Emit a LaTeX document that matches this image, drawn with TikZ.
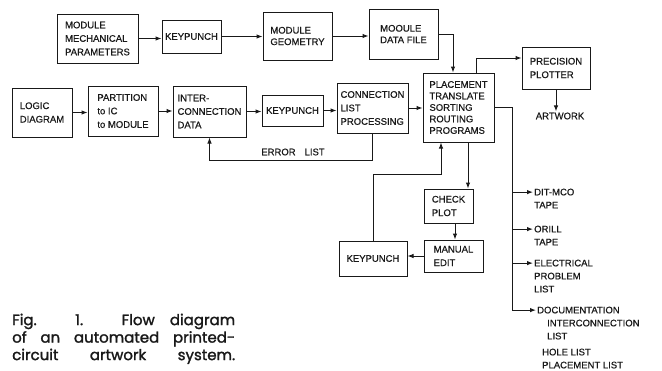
\documentclass[tikz,border=0pt]{standalone}
\usepackage{fontspec}
\setmainfont{Liberation Sans}[FakeBold=0.5]
\newfontfamily\capfont{Poppins}[FakeBold=1.6]
\usetikzlibrary{arrows.meta}

\tikzset{
	blk/.style={draw, line width=1pt, align=left, inner sep=2pt, font=\fontsize{9.5}{13.5}\selectfont},
	tight/.style={font=\fontsize{9.5}{11.5}\selectfont},
	outtxt/.style={anchor=north west, align=left, inner sep=1pt, font=\fontsize{9.5}{13}\selectfont},
	lbl/.style={inner sep=1pt, font=\fontsize{9.5}{11.5}\selectfont},
	ln/.style={line width=1pt},
	arr/.style={line width=1pt, -{Latex[length=6pt,width=4.5pt]}},
}

\begin{document}
\begin{tikzpicture}[x=1pt, y=-1pt, color=black!90]
			
			\useasboundingbox[fill=white] (0,0) rectangle (662,370);
			
			% top row
			\node[blk, minimum width=81pt, minimum height=49pt] (mmp) at (97.5,38.5) {MODULE\\MECHANICAL\\PARAMETERS};
			\node[blk, minimum width=59pt, minimum height=33pt] (kp1) at (191.5,36.5) {KEYPUNCH};
			\node[blk, tight, minimum width=69pt, minimum height=48pt] (mgeo) at (297.5,36) {MODULE\\GEOMETRY};
			\node[blk, tight, minimum width=69pt, minimum height=50pt] (mdf) at (403.5,34) {MOOULE\\DATA FILE};
			
			% middle row
			\node[blk, minimum width=60pt, minimum height=49pt] (logic) at (42,112.5) {LOGIC\\DIAGRAM};
			\node[blk, minimum width=70pt, minimum height=50pt] (part) at (123,111) {PARTITION\\to IC\\to MODULE};
			\node[blk, minimum width=73pt, minimum height=51pt] (icd) at (209.5,111.5) {INTER-\\CONNECTION\\DATA};
			\node[blk, minimum width=61pt, minimum height=31pt] (kp2) at (292.5,110.5) {KEYPUNCH};
			\node[blk, minimum width=71pt, minimum height=50pt] (clp) at (372.5,108) {CONNECTION\\LIST\\PROCESSING};
			\node[blk, tight, minimum width=71pt, minimum height=69pt] (prog) at (458.5,107.5) {PLACEMENT\\TRANSLATE\\SORTING\\ROUTING\\PROGRAMS};
			\node[blk, minimum width=68pt, minimum height=42pt] (pp) at (556,68) {PRECISION\\PLOTTER};
			
			% edit loop
			\node[blk, minimum width=49pt, minimum height=34pt] (chk) at (448.5,206) {CHECK\\PLOT};
			\node[blk, minimum width=59pt, minimum height=32pt] (medit) at (453.5,256) {MANUAL\\EDIT};
			\node[blk, minimum width=68pt, minimum height=35pt] (kp3) at (373,258.5) {KEYPUNCH};
			
			% free labels and outputs
			\node[lbl] (errlbl) at (293,152) {ERROR\hspace{9pt}LIST};
			\node[lbl] (art) at (560,116) {ARTWORK};
			\node[outtxt] (dit) at (533,187.5) {DIT-MCO\\TAPE};
			\node[outtxt] (drill) at (533,224.5) {ORILL\\TAPE};
			\node[outtxt] (elec) at (533,258.5) {ELECTRICAL\\PROBLEM\\LIST};
			\node[outtxt] (doc) at (536,305.5) {DOCUMENTATION\\\hspace*{10pt}INTERCONNECTION\\\hspace*{10pt}LIST\\[3pt]\hspace*{5pt}HOLE LIST\\\hspace*{5pt}PLACEMENT LIST};
			
			% arrows along the rows
			\draw[arr] (mmp.east) -- (mmp.east -| kp1.west);
			\draw[arr] (kp1.east) -- (kp1.east -| mgeo.west);
			\draw[arr] (mgeo.east) -- (mgeo.east -| mdf.west);
			\draw[arr] (mdf.east) -| ([xshift=-5.5pt]prog.north);
			\draw[arr] (logic.east) -- (logic.east -| part.west);
			\draw[arr] (part.east) -- (part.east -| icd.west);
			\draw[arr] (icd.east) -- (icd.east -| kp2.west);
			\draw[arr] (kp2.east) -- (kp2.east -| clp.west);
			\draw[arr] (clp.east) -- (clp.east -| prog.west);
			
			% error list back to the data
			\draw[arr] (clp.south) -- ++(0,27) -| (icd.south);
			
			% plotter
			\draw[arr] ([xshift=17.5pt]prog.north) |- ([yshift=10pt]pp.west);
			\draw[arr] (pp.south) -- (pp.south |- art.north);
			
			% check and edit
			\draw[arr] ([xshift=9.5pt]prog.south) -- ([xshift=9.5pt]prog.south |- chk.north);
			\draw[arr] ([xshift=6.5pt]chk.south) -- ([xshift=6.5pt]chk.south |- medit.north);
			\draw[arr] (medit.west) -- (medit.west -| kp3.east);
			\coordinate (fb) at (441,174);
			\draw[arr] (kp3.north) |- (fb) -- (fb |- prog.south);
			
			% outputs
			\coordinate (trunk) at (512,0);
			\coordinate (ditin) at ([yshift=-4.6pt]dit.north west);
			\coordinate (drillin) at ([yshift=-4.6pt]drill.north west);
			\coordinate (elecin) at ([yshift=-4.6pt]elec.north west);
			\coordinate (docin) at ([yshift=-4.6pt]doc.north west);
			\draw[ln] (prog.east) -| (trunk |- docin);
			\foreach \t in {ditin,drillin,elecin,docin}
				\draw[arr] (trunk |- \t) -- (\t);
			
			% caption
			\node[anchor=north west, inner sep=0pt, align=left, font=\capfont\fontsize{15}{17.5}\selectfont] (cap) at (12,313.5) {\makebox[223pt][s]{Fig. 1. Flow diagram}\\\makebox[223pt][s]{of an automated printed-}\\\makebox[223pt][s]{circuit artwork system.}};
			
		\end{tikzpicture}
\end{document}
